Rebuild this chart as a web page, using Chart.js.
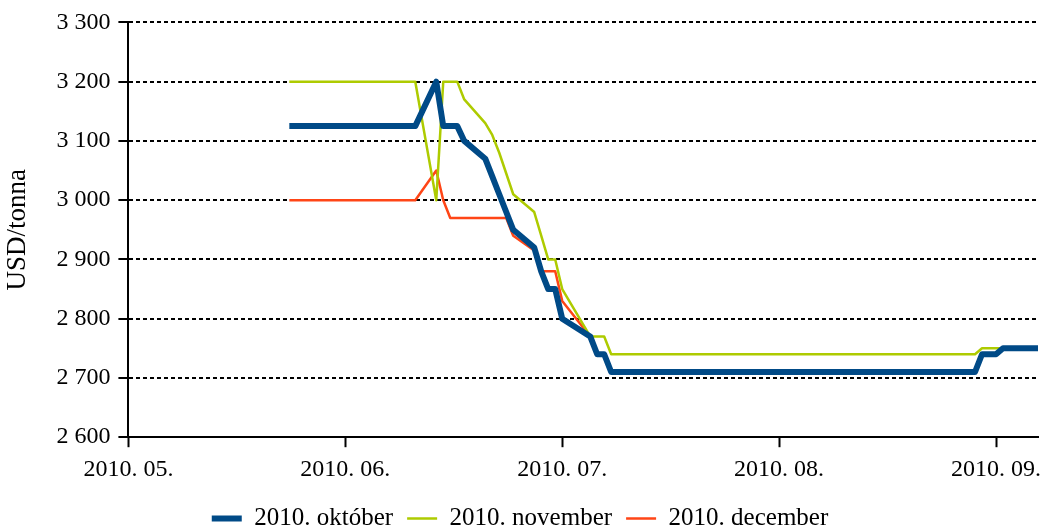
<!DOCTYPE html>
<html>
<head>
<meta charset="utf-8">
<script src="https://cdn.jsdelivr.net/npm/chart.js@4/dist/chart.umd.min.js"></script>
<style>
  body { margin: 0; background: #fff; }
  #wrap { width: 1043px; height: 529px; }
</style>
</head>
<body>
<div id="wrap"><canvas id="priceChart"></canvas></div>
<script>
// x values: days counted from the start of the axis (2010. 05.)
var days = [23, 41, 44, 45, 46, 47, 48, 51, 52, 53, 54, 55, 58, 59, 60, 61, 62, 66, 67, 68, 69, 121, 122, 124, 125, 130];
var october  = [3125, 3125, 3200, 3125, 3125, 3125, 3100, 3070, 3040, 3010, 2980, 2950, 2920, 2880, 2850, 2850, 2800, 2770, 2740, 2740, 2710, 2710, 2740, 2740, 2750, 2750];
var november = [3200, 3200, 3000, 3200, 3200, 3200, 3170, 3130, 3110, 3080, 3045, 3010, 2980, 2940, 2900, 2900, 2850, 2770, 2770, 2770, 2740, 2740, 2750, 2750, 2750, 2750];
var december = [3000, 3000, 3050, 3000, 2970, 2970, 2970, 2970, 2970, 2970, 2970, 2940, 2915, 2880, 2880, 2880, 2830, 2770, 2740, 2740, 2710, 2710, 2740, 2740, 2750, 2750];

var seriesNames = ['2010. október', '2010. november', '2010. december'];
var monthLabels = ['2010. 05.', '2010. 06.', '2010. 07.', '2010. 08.', '2010. 09.'];
var monthTicks = [0, 31, 62, 93, 124];

function points(values) {
    return values.map(function(v, i) { return { x: days[i], y: v }; });
}

window.onload = function() {
    Chart.defaults.font.family = "'Liberation Serif', 'DejaVu Serif', serif";
    Chart.defaults.font.size = 24;
    Chart.defaults.color = '#000';

    var ctx = document.getElementById('priceChart').getContext('2d');
    new Chart(ctx, {
        type: 'line',
        data: {
            datasets: [{
                label: seriesNames[0],
                data: points(october),
                borderColor: '#004a87',
                backgroundColor: '#004a87',
                borderWidth: 6
            }, {
                label: seriesNames[1],
                data: points(november),
                borderColor: '#aecb00',
                backgroundColor: '#aecb00',
                borderWidth: 2.5
            }, {
                label: seriesNames[2],
                data: points(december),
                borderColor: '#ff4516',
                backgroundColor: '#ff4516',
                borderWidth: 2.5
            }]
        },
        options: {
            responsive: true,
            maintainAspectRatio: false,
            animation: false,
            layout: { padding: { top: 8, right: 5, left: 2, bottom: -12 } },
            elements: {
                point: { radius: 0 },
                line: { tension: 0, borderJoinStyle: 'round' }
            },
            plugins: {
                tooltip: { enabled: false },
                legend: {
                    position: 'bottom',
                    labels: {
                        usePointStyle: true,
                        pointStyle: 'line',
                        pointStyleWidth: 30,
                        padding: 14,
                        font: { size: 25 }
                    }
                }
            },
            scales: {
                x: {
                    type: 'linear',
                    min: 0,
                    max: 130,
                    afterBuildTicks: function(scale) {
                        scale.ticks = monthTicks.map(function(v) { return { value: v }; });
                    },
                    afterFit: function(scale) {
                        // last label may run into the right margin, as in the original
                        scale.paddingRight = 0;
                    },
                    ticks: {
                        padding: 8,
                        maxRotation: 0,
                        callback: function(value) {
                            var i = monthTicks.indexOf(value);
                            return i >= 0 ? monthLabels[i] : '';
                        }
                    },
                    grid: {
                        drawOnChartArea: false,
                        drawTicks: true,
                        tickLength: 10,
                        tickWidth: 2,
                        tickColor: '#000'
                    },
                    border: { color: '#000', width: 2 }
                },
                y: {
                    min: 2600,
                    max: 3300,
                    ticks: {
                        stepSize: 100,
                        padding: 8,
                        callback: function(value) {
                            return String(value).replace(/\B(?=(\d{3})+(?!\d))/g, ' ');
                        }
                    },
                    title: {
                        display: true,
                        text: 'USD/tonna',
                        font: { size: 27 },
                        padding: { top: 0, bottom: 14 }
                    },
                    grid: {
                        color: '#000',
                        lineWidth: 2,
                        tickLength: 10,
                        tickWidth: 2,
                        tickColor: '#000',
                        tickBorderDash: []
                    },
                    border: { color: '#000', width: 2, dash: [4, 3] }
                }
            }
        }
    });
};
</script>
</body>
</html>
